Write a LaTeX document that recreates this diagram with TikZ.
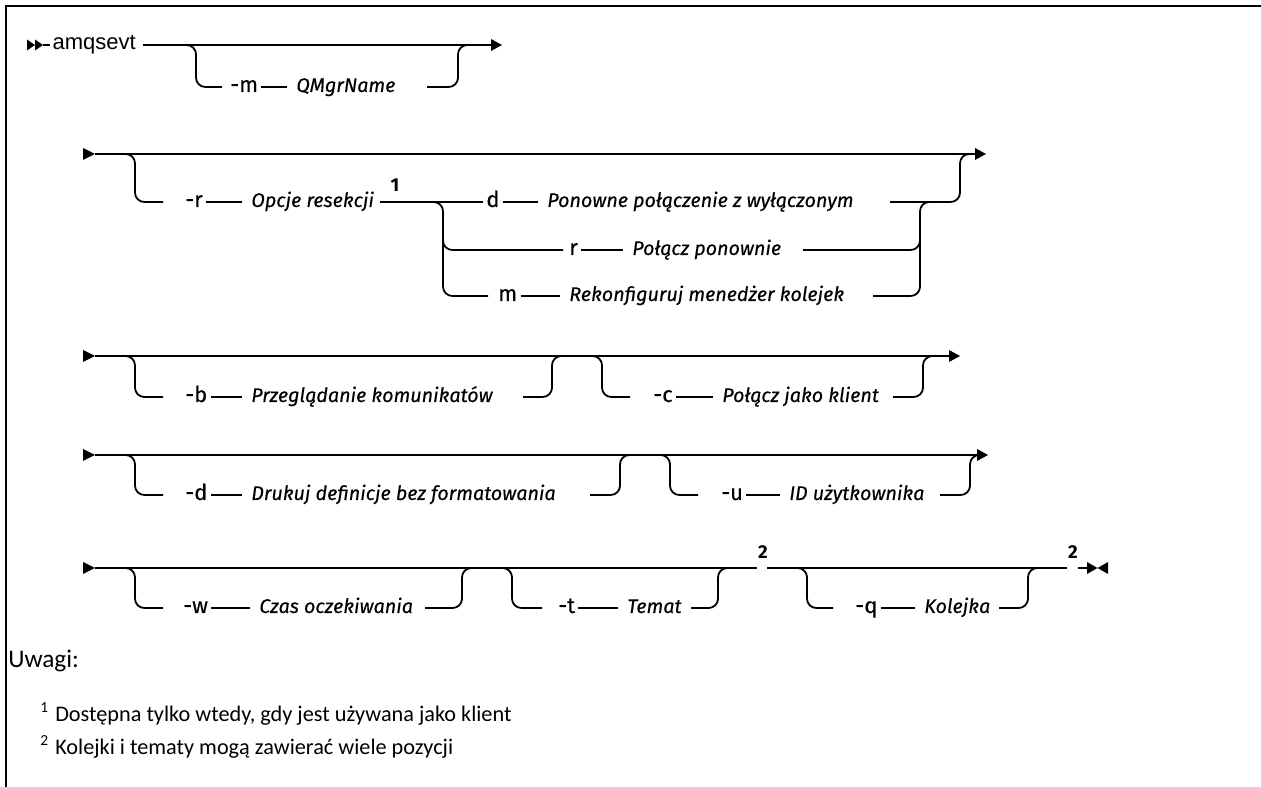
\documentclass[tikz,border=0pt]{standalone}
\usepackage{fontspec}
\setmainfont{Fira Sans}
\newfontfamily\labf[FakeBold=0.35]{Fira Sans}
\newfontfamily\arialf{Liberation Sans}
\newfontfamily\notef{Carlito}
\newcommand\rrarrowtip[1]{\fill (#1) ++(0,-6) -- ++(11,6) -- ++(-11,6) -- cycle;}
\newcommand\rrrowstart[1]{\fill (#1) ++(-12,-6) -- ++(12,6) -- ++(-12,6) -- cycle;}
\begin{document}
\begin{tikzpicture}[x=0.75pt,y=-0.75pt,
  ln/.style={line width=1.35pt},
  rr/.style={line width=1.35pt, rounded corners=7pt},
  frame/.style={line width=1.8pt},
  kw/.style={font=\labf\fontsize{16.5}{19}\selectfont, inner sep=0pt, outer xsep=2.5pt, outer ysep=0pt, text height=8pt, text depth=0.5pt, anchor=west},
  var/.style={kw, font=\labf\fontsize{14.8}{18}\selectfont\itshape, outer xsep=7pt},
  cmd/.style={kw, font=\arialf\fontsize{16.5}{20}\selectfont, outer xsep=2pt},
  supn/.style={font=\fontsize{14}{16}\selectfont\bfseries, inner sep=0pt},
  note/.style={font=\notef\fontsize{16.7}{20}\selectfont, inner sep=0pt, anchor=base west},
  notesup/.style={font=\notef\fontsize{11.5}{14}\selectfont, inner sep=0pt, anchor=base west},
  ]
\useasboundingbox (0,0) rectangle (1261,787);
\draw[frame] (6,787) -- (6,6) -- (1261,6);

% ---------- row 1 ----------
\fill (27,39.5) -- (35,45) -- (27,50.5) -- cycle;
\fill (35,39.5) -- (43,45) -- (35,50.5) -- cycle;
\coordinate (st1) at (43,45);
\node[cmd] (amq) at (50,45) {amqsevt};
\draw[ln] (st1) -- (amq);
\coordinate (m1s) at (143,45);
\coordinate (e1) at (491,45);
\draw[ln] (m1s) -- (e1);
\rrarrowtip{e1}
\coordinate (b1a) at (183,45);
\coordinate (b1b) at (222,87);
\draw[rr] (b1a) -| (196,87) -- (b1b);
\node[kw] (m1) at (227,87) {-m};
\node[var] (q1) at (287,87) {QMgrName};
\draw[ln] (m1) -- (q1);
\coordinate (b1c) at (427,87);
\draw[rr] (b1c) -| (458,45) -- (470,45);

% ---------- row 2 ----------
\coordinate (s2) at (95,154);
\coordinate (e2) at (975,154);
\rrrowstart{s2}
\draw[ln] (s2) -- (e2);
\rrarrowtip{e2}
\coordinate (b2b) at (163,202);
\draw[rr] (123,154) -| (135,202) -- (b2b);
\node[kw] (r2) at (182,202) {-r};
\node[var] (opc) at (242,202) {Opcje resekcji};
\draw[ln] (r2) -- (opc);
\node[supn] (fn1) at (395,185) {1};
\coordinate (j2) at (380,202);
\node[kw] (d2) at (483,202) {d};
\draw[ln] (j2) -- (d2);
\draw[rr] (428,202) -| (443,250) -- (563,250);
\draw[rr] (443,235) |- (488,296);
\node[var] (pon) at (538,202) {Ponowne połączenie z wyłączonym};
\draw[ln] (d2) -- (pon);
\coordinate (b2c) at (890,202);
\draw[rr] (b2c) -| (960,154) -- (972,154);
\node[kw] (r2b) at (566,250) {r};
\node[var] (pol) at (623,250) {Połącz ponownie};
\draw[ln] (r2b) -- (pol);
\coordinate (b2d) at (803,250);
\draw[rr] (b2d) -| (920,202) -- (932,202);
\node[kw] (m2) at (495,296) {m};
\node[var] (rek) at (560,296) {Rekonfiguruj menedżer kolejek};
\draw[ln] (m2) -- (rek);
\coordinate (b2e) at (873,296);
\draw[rr] (b2e) -| (920,235);

% ---------- row 3 ----------
\coordinate (s3) at (95,356);
\coordinate (e3) at (949,356);
\rrrowstart{s3}
\draw[ln] (s3) -- (e3);
\rrarrowtip{e3}
\draw[rr] (123,356) -| (135,397) -- (163,397);
\node[kw] (b3) at (182,397) {-b};
\node[var] (prz) at (242,397) {Przeglądanie komunikatów};
\draw[ln] (b3) -- (prz);
\draw[rr] (523,397) -| (552,356) -- (562,356);
\draw[rr] (590,356) -| (602,397) -- (630,397);
\node[kw] (c3) at (650,397) {-c};
\node[var] (pjk) at (713,397) {Połącz jako klient};
\draw[ln] (c3) -- (pjk);
\draw[rr] (893,397) -| (923,356) -- (935,356);

% ---------- row 4 ----------
\coordinate (s4) at (95,455);
\coordinate (e4) at (977,455);
\rrrowstart{s4}
\draw[ln] (s4) -- (e4);
\rrarrowtip{e4}
\draw[rr] (123,455) -| (135,495) -- (163,495);
\node[kw] (d4) at (182,495) {-d};
\node[var] (dru) at (242,495) {Drukuj definicje bez formatowania};
\draw[ln] (d4) -- (dru);
\draw[rr] (590,495) -| (620,455) -- (630,455);
\draw[rr] (658,455) -| (670,495) -- (698,495);
\node[kw] (u4) at (718,495) {-u};
\node[var] (idu) at (780,495) {ID użytkownika};
\draw[ln] (u4) -- (idu);
\draw[rr] (940,495) -| (970,455) -- (980,455);

% ---------- row 5 ----------
\coordinate (s5) at (95,568);
\rrrowstart{s5}
\coordinate (g1a) at (757,568);
\coordinate (g1b) at (767,568);
\draw[ln] (s5) -- (g1a);
\node[supn] (fn2a) at (763,552) {2};
\coordinate (g2a) at (1067,568);
\coordinate (g2b) at (1078,568);
\draw[ln] (g1b) -- (g2a);
\node[supn] (fn2b) at (1073,552) {2};
\coordinate (fin) at (1087,568);
\draw[ln] (g2b) -- (fin);
\fill (1087,562) -- (1097.5,568) -- (1087,574) -- cycle;
\fill (1108,562) -- (1097.5,568) -- (1108,574) -- cycle;
\draw[rr] (123,568) -| (135,608) -- (163,608);
\node[kw] (w5) at (180,608) {-w};
\node[var] (czas) at (250,608) {Czas oczekiwania};
\draw[ln] (w5) -- (czas);
\draw[rr] (425,608) -| (462,568) -- (472,568);
\draw[rr] (500,568) -| (512,608) -- (542,608);
\node[kw] (t5) at (555,608) {-t};
\node[var] (tem) at (618,608) {Temat};
\draw[ln] (t5) -- (tem);
\draw[rr] (691,608) -| (718,568) -- (728,568);
\draw[rr] (793,568) -| (807,608) -- (833,608);
\node[kw] (q5) at (852,608) {-q};
\node[var] (kol) at (915,608) {Kolejka};
\draw[ln] (q5) -- (kol);
\draw[rr] (999,608) -| (1028,568) -- (1040,568);

% ---------- notes ----------
\node[note, font=\notef\fontsize{19}{22}\selectfont] (uwagi) at (8,668) {Uwagi:};
\node[notesup] (ns1) at (40,712) {1};
\node[note] (nt1) at (55,721) {Dostępna tylko wtedy, gdy jest używana jako klient};
\node[notesup] (ns2) at (40,745) {2};
\node[note] (nt2) at (55,754) {Kolejki i tematy mogą zawierać wiele pozycji};
\end{tikzpicture}
\end{document}
